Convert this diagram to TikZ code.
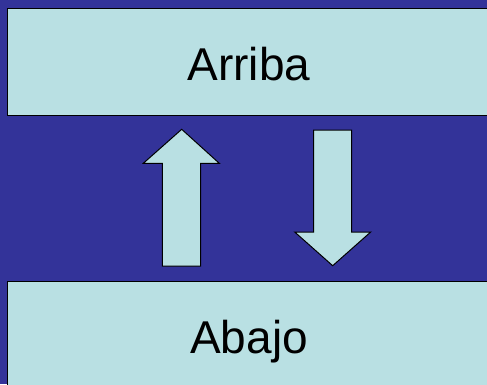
\documentclass[tikz,border=0pt]{standalone}
\usepackage{fontspec}
\setmainfont{Liberation Sans}
\definecolor{fondo}{RGB}{51,51,153}
\definecolor{celeste}{RGB}{185,224,227}
\tikzset{
  caja/.style={draw=black,fill=celeste,line width=1pt,anchor=north west,
    minimum width=483pt,minimum height=107pt,inner sep=0pt,
    text height=36pt,text depth=0pt,font=\fontsize{46pt}{50pt}\selectfont},
  flecha/.style={draw=black,fill=celeste,line width=1pt,line join=miter}
}
\begin{document}
\begin{tikzpicture}[x=1pt,y=-1pt]
				\clip (0,0) rectangle (487,384);
				\fill[fondo] (0,0) rectangle (487,384);
				\node[caja] (arriba) at (7,8) {Arriba};
				\node[caja] (abajo) at (7,281) {Abajo};
				% flecha que sube
				\draw[flecha] (162.3,266) -- (162.3,163.3) -- (143.3,163.3) -- (181.7,129.3)
					-- (219.3,163.3) -- (200.7,163.3) -- (200.7,266) -- cycle;
				% flecha que baja
				\draw[flecha] (313.7,130) -- (351.7,130) -- (351.7,232) -- (370.7,232)
					-- (332.7,265.7) -- (294.7,232) -- (313.7,232) -- cycle;
			\end{tikzpicture}
\end{document}
